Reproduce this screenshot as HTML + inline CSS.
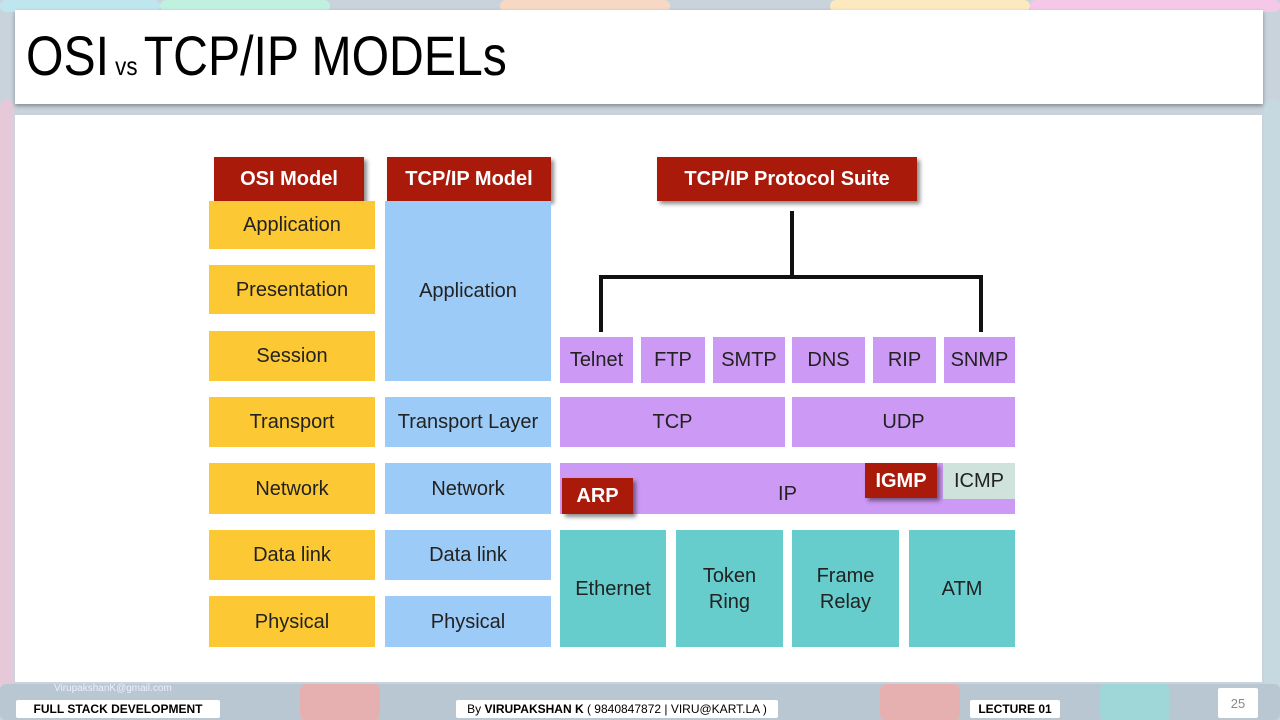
<!DOCTYPE html>
<html><head><meta charset="utf-8"><style>
*{margin:0;padding:0;box-sizing:border-box}
body{width:1280px;height:720px;position:relative;overflow:hidden;background:#c9d3dc;font-family:"Liberation Sans",sans-serif}
.t{position:absolute;border-radius:6px}
.b{position:absolute;display:flex;align-items:center;justify-content:center;text-align:center;color:#222;font-size:20px;line-height:26px}
.y{background:#fcc934}
.bl{background:#9ccbf8}
.p{background:#cc99f5}
.g{background:#66cccc}
.r{background:#aa1a0a;color:#fff;font-weight:bold;box-shadow:3px 3px 4px rgba(0,0,0,.45)}
.ln{position:absolute;background:#111}
.lab{position:absolute;background:#fff;font-size:12px;font-weight:bold;display:flex;align-items:center;justify-content:center;border-radius:2px}
</style></head><body>
<div class="t" style="left:0;top:0;width:160px;height:12px;background:#bfe6ef"></div>
<div class="t" style="left:160px;top:0;width:170px;height:12px;background:#bff0e0"></div>
<div class="t" style="left:500px;top:0;width:170px;height:12px;background:#f7d8c4"></div>
<div class="t" style="left:830px;top:0;width:200px;height:12px;background:#fde9bf"></div>
<div class="t" style="left:1030px;top:0;width:250px;height:12px;background:#f6c8e8"></div>
<div class="t" style="left:0;top:100px;width:14px;height:590px;background:#e6c9d8"></div>
<div class="t" style="left:1264px;top:100px;width:16px;height:590px;background:#c7d9e0"></div>
<div class="t" style="left:0;top:684px;width:1280px;height:36px;background:#b9c7d2"></div>
<div class="t" style="left:300px;top:684px;width:80px;height:36px;background:#e7b0b0"></div>
<div class="t" style="left:880px;top:684px;width:80px;height:36px;background:#e7b0b0"></div>
<div class="t" style="left:1100px;top:684px;width:70px;height:36px;background:#9fd6d8"></div>

<div style="position:absolute;left:15px;top:10px;width:1248px;height:94px;background:#fff;box-shadow:0 2px 4px rgba(0,0,0,.35)"></div>
<div style="position:absolute;left:26px;top:24px;font-size:56px;line-height:64px;color:#000;transform:scaleX(.86);transform-origin:left">OSI<span style="font-size:26px"> vs </span>TCP/IP MODELs</div>
<div style="position:absolute;left:15px;top:115px;width:1247px;height:567px;background:#fff"></div>

<div class="b r" style="left:214px;top:157px;width:150px;height:44px">OSI Model</div>
<div class="b r" style="left:387px;top:157px;width:164px;height:44px">TCP/IP Model</div>
<div class="b r" style="left:657px;top:157px;width:260px;height:44px">TCP/IP Protocol Suite</div>

<div class="b y" style="left:209px;top:201px;width:166px;height:48px">Application</div>
<div class="b y" style="left:209px;top:265px;width:166px;height:49px">Presentation</div>
<div class="b y" style="left:209px;top:331px;width:166px;height:50px">Session</div>
<div class="b y" style="left:209px;top:397px;width:166px;height:50px">Transport</div>
<div class="b y" style="left:209px;top:463px;width:166px;height:51px">Network</div>
<div class="b y" style="left:209px;top:530px;width:166px;height:50px">Data link</div>
<div class="b y" style="left:209px;top:596px;width:166px;height:51px">Physical</div>

<div class="b bl" style="left:385px;top:201px;width:166px;height:180px">Application</div>
<div class="b bl" style="left:385px;top:397px;width:166px;height:50px">Transport Layer</div>
<div class="b bl" style="left:385px;top:463px;width:166px;height:51px">Network</div>
<div class="b bl" style="left:385px;top:530px;width:166px;height:50px">Data link</div>
<div class="b bl" style="left:385px;top:596px;width:166px;height:51px">Physical</div>

<div class="ln" style="left:790px;top:211px;width:4px;height:68px"></div>
<div class="ln" style="left:599px;top:275px;width:384px;height:4px"></div>
<div class="ln" style="left:599px;top:275px;width:4px;height:57px"></div>
<div class="ln" style="left:979px;top:275px;width:4px;height:57px"></div>

<div class="b p" style="left:560px;top:337px;width:73px;height:46px">Telnet</div>
<div class="b p" style="left:641px;top:337px;width:64px;height:46px">FTP</div>
<div class="b p" style="left:713px;top:337px;width:72px;height:46px">SMTP</div>
<div class="b p" style="left:792px;top:337px;width:73px;height:46px">DNS</div>
<div class="b p" style="left:873px;top:337px;width:63px;height:46px">RIP</div>
<div class="b p" style="left:944px;top:337px;width:71px;height:46px">SNMP</div>
<div class="b p" style="left:560px;top:397px;width:225px;height:50px">TCP</div>
<div class="b p" style="left:792px;top:397px;width:223px;height:50px">UDP</div>
<div class="b p" style="left:560px;top:463px;width:455px;height:51px;padding-top:10px">IP</div>
<div class="b r" style="left:562px;top:478px;width:71px;height:36px">ARP</div>
<div class="b" style="left:943px;top:463px;width:72px;height:36px;background:#cfe3dc">ICMP</div>
<div class="b r" style="left:865px;top:463px;width:72px;height:35px">IGMP</div>

<div class="b g" style="left:560px;top:530px;width:106px;height:117px">Ethernet</div>
<div class="b g" style="left:676px;top:530px;width:107px;height:117px">Token<br>Ring</div>
<div class="b g" style="left:792px;top:530px;width:107px;height:117px">Frame<br>Relay</div>
<div class="b g" style="left:909px;top:530px;width:106px;height:117px">ATM</div>

<div style="position:absolute;left:54px;top:683px;font-size:10px;color:#eef">VirupakshanK@gmail.com</div>
<div class="lab" style="left:16px;top:700px;width:204px;height:18px">FULL STACK DEVELOPMENT</div>
<div class="lab" style="left:456px;top:700px;width:322px;height:18px;font-weight:normal">By&nbsp;<b>VIRUPAKSHAN K</b>&nbsp;( 9840847872 | VIRU@KART.LA )</div>
<div class="lab" style="left:970px;top:700px;width:90px;height:18px">LECTURE 01</div>
<div class="lab" style="left:1218px;top:688px;width:40px;height:30px;font-weight:normal;color:#888;font-size:13px">25</div>
</body></html>
